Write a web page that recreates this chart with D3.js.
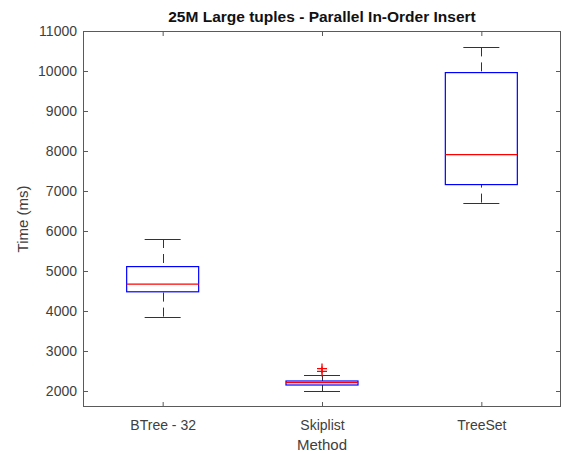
<!DOCTYPE html>
<html>
<head>
<meta charset="utf-8">
<script src="https://cdn.jsdelivr.net/npm/d3@7"></script>
<style>
  body { margin: 0; background: #fff; }
  svg { font-family: "Liberation Sans", Arial, sans-serif; }
</style>
</head>
<body>
<div id="chart"></div>
<script>
// values
var methods = ["BTree - 32", "Skiplist", "TreeSet"];
var whiskerLow = [3860, 2000, 6710];
var q1 = [4480, 2150, 7160];
var median = [4670, 2210, 7910];
var q3 = [5110, 2250, 9960];
var whiskerHigh = [5800, 2410, 10590];
var outliers = [[], [2560, 2490], []];
var yTicks = [2000, 3000, 4000, 5000, 6000, 7000, 8000, 9000, 10000, 11000];

var width = 562, height = 453;
var margin = {top: 31, right: 1, bottom: 46, left: 83};

var svg = d3.select("#chart").append("svg")
    .attr("width", width)
    .attr("height", height);

var x = d3.scaleLinear()
    .domain([0.5, 3.5])
    .range([margin.left, width - margin.right]);

var y = d3.scaleLinear()
    .domain([1600, 11000])
    .range([height - margin.bottom, margin.top]);

var axisColor = "#5a5a5a";
var textColor = "#404040";

// axes (ticks point inward, box on)
var gLeft = svg.append("g")
    .attr("transform", "translate(" + margin.left + ",0)")
    .call(d3.axisLeft(y).tickValues(yTicks).tickSize(-5).tickPadding(6).tickFormat(d3.format("d")));
var gRight = svg.append("g")
    .attr("transform", "translate(" + (width - margin.right) + ",0)")
    .call(d3.axisRight(y).tickValues(yTicks).tickSize(-5).tickFormat(""));
var gBottom = svg.append("g")
    .attr("transform", "translate(0," + (height - margin.bottom) + ")")
    .call(d3.axisBottom(x).tickValues([1, 2, 3]).tickSize(-5).tickPadding(13)
        .tickFormat(function(d){ return methods[d - 1]; }));
var gTop = svg.append("g")
    .attr("transform", "translate(0," + margin.top + ")")
    .call(d3.axisTop(x).tickValues([1, 2, 3]).tickSize(-5).tickFormat(""));

[gLeft, gRight, gBottom, gTop].forEach(function(g){
    g.select(".domain").attr("stroke", axisColor).attr("d", null);
    g.selectAll(".tick line").attr("stroke", axisColor);
    g.selectAll("text").attr("fill", textColor).style("font-size", "14px")
        .style("font-family", "'Liberation Sans', Arial, sans-serif");
});

// frame
svg.append("rect")
    .attr("x", margin.left + 0.5)
    .attr("y", margin.top + 0.5)
    .attr("width", width - margin.right - margin.left - 1)
    .attr("height", height - margin.bottom - margin.top - 1)
    .attr("fill", "none")
    .attr("stroke", axisColor);

var boxHalf = 36, capHalf = 18;
var boxes = svg.selectAll(".boxg")
    .data(methods)
    .enter()
    .append("g")
    .attr("class", "boxg");

// whiskers (dashed, drawn from the cap toward the box)
boxes.append("line")
    .attr("x1", function(d,i){ return Math.round(x(i + 1)) + 0.5; })
    .attr("x2", function(d,i){ return Math.round(x(i + 1)) + 0.5; })
    .attr("y1", function(d,i){ return y(whiskerHigh[i]); })
    .attr("y2", function(d,i){ return y(q3[i]); })
    .attr("stroke", "#333")
    .attr("stroke-dasharray", "9,6");
boxes.append("line")
    .attr("x1", function(d,i){ return Math.round(x(i + 1)) + 0.5; })
    .attr("x2", function(d,i){ return Math.round(x(i + 1)) + 0.5; })
    .attr("y1", function(d,i){ return y(whiskerLow[i]); })
    .attr("y2", function(d,i){ return y(q1[i]); })
    .attr("stroke", "#333")
    .attr("stroke-dasharray", "9,6");

// caps
[whiskerHigh, whiskerLow].forEach(function(arr){
    boxes.append("line")
        .attr("x1", function(d,i){ return x(i + 1) - capHalf; })
        .attr("x2", function(d,i){ return x(i + 1) + capHalf; })
        .attr("y1", function(d,i){ return Math.round(y(arr[i])) + 0.5; })
        .attr("y2", function(d,i){ return Math.round(y(arr[i])) + 0.5; })
        .attr("stroke", "#333");
});

// box
boxes.append("rect")
    .attr("x", function(d,i){ return x(i + 1) - boxHalf; })
    .attr("y", function(d,i){ return y(q3[i]); })
    .attr("width", boxHalf * 2)
    .attr("height", function(d,i){ return y(q1[i]) - y(q3[i]); })
    .attr("fill", "none")
    .attr("stroke", "#0000ff")
    .attr("stroke-width", 1.2);

// median
boxes.append("line")
    .attr("x1", function(d,i){ return x(i + 1) - boxHalf; })
    .attr("x2", function(d,i){ return x(i + 1) + boxHalf; })
    .attr("y1", function(d,i){ return y(median[i]); })
    .attr("y2", function(d,i){ return y(median[i]); })
    .attr("stroke", "#ff0000")
    .attr("stroke-width", 1.2);

// outliers as red plus markers
outliers.forEach(function(list, i){
    list.forEach(function(v){
        var cx = x(i + 1), cy = y(v);
        svg.append("path")
            .attr("d", "M" + (cx - 5) + "," + cy + "H" + (cx + 5) + "M" + cx + "," + (cy - 5) + "V" + (cy + 5))
            .attr("stroke", "#ff0000")
            .attr("stroke-width", 1.3)
            .attr("fill", "none");
    });
});

// labels
svg.append("text")
    .attr("x", (margin.left + width - margin.right) / 2)
    .attr("y", 22)
    .attr("text-anchor", "middle")
    .style("font-size", "15.5px")
    .style("font-weight", "bold")
    .attr("fill", "#111")
    .text("25M Large tuples - Parallel In-Order Insert");

svg.append("text")
    .attr("x", (margin.left + width - margin.right) / 2)
    .attr("y", 450)
    .attr("text-anchor", "middle")
    .style("font-size", "15px")
    .attr("fill", textColor)
    .text("Method");

svg.append("text")
    .attr("transform", "translate(28," + ((margin.top + height - margin.bottom) / 2) + ") rotate(-90)")
    .attr("text-anchor", "middle")
    .style("font-size", "15px")
    .attr("fill", textColor)
    .text("Time (ms)");
</script>
</body>
</html>
